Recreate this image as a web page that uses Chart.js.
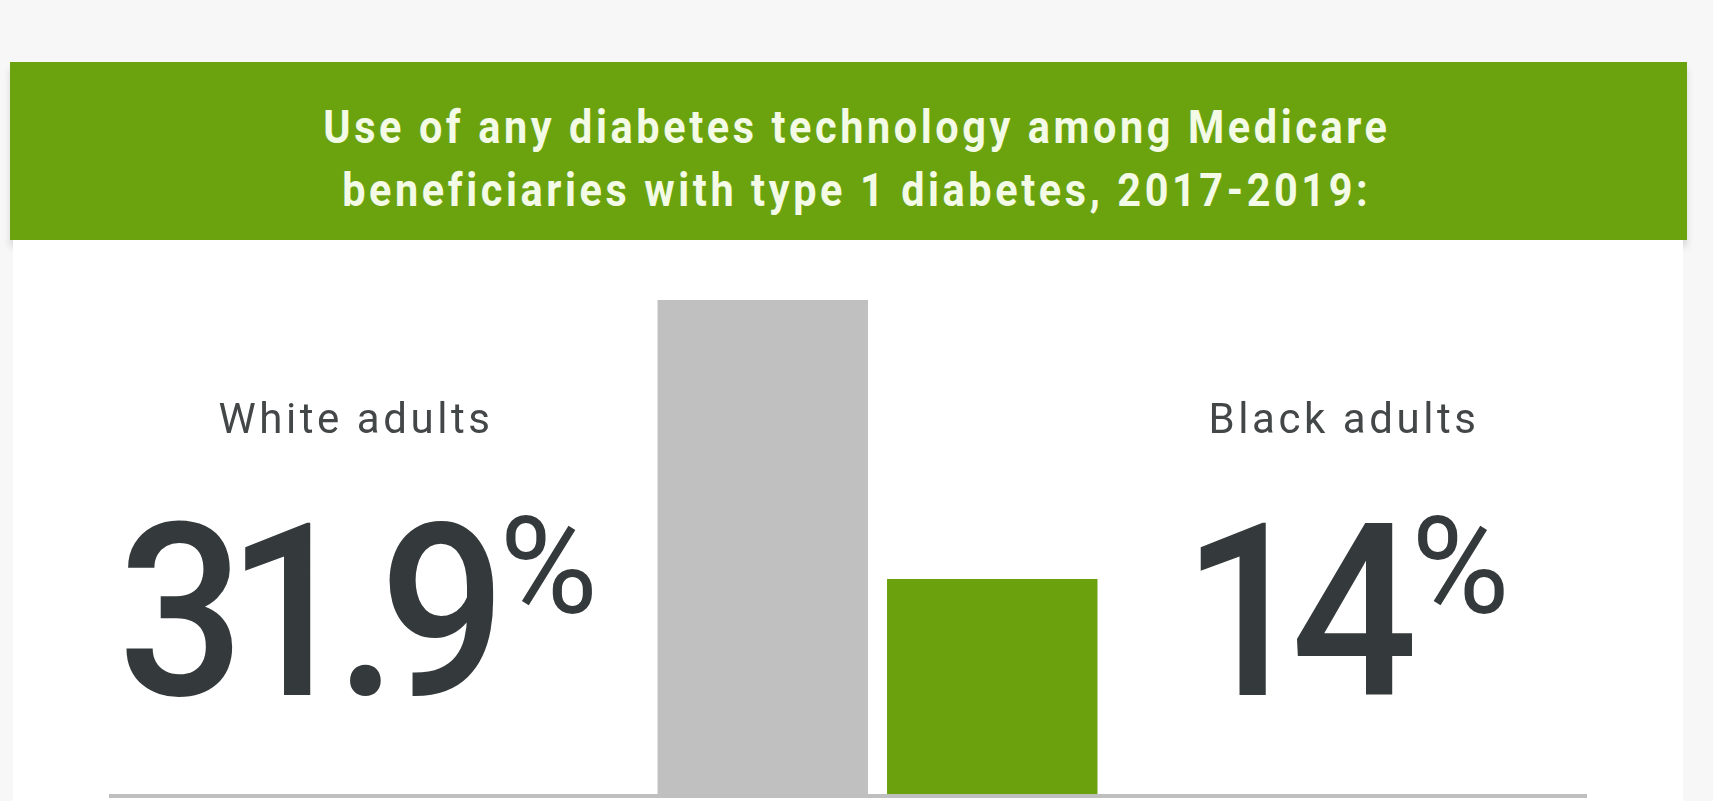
<!DOCTYPE html>
<html>
<head>
<meta charset="utf-8">
<script src="https://cdn.jsdelivr.net/npm/chart.js@4.4.1/dist/chart.umd.min.js"></script>
<style>
  html, body { margin: 0; padding: 0; }
  body {
    width: 1713px; height: 801px; position: relative; overflow: hidden;
    background: #f7f7f7; font-family: Roboto, "Open Sans", sans-serif;
  }
  .card { position: absolute; left: 13px; top: 240px; width: 1670px; height: 561px; background: #fff; }
  .banner {
    position: absolute; left: 10px; top: 62px; width: 1677px; height: 178px;
    background: #6ba30e; box-shadow: 0 7px 7px rgba(0, 0, 0, 0.13);
  }
  .title {
    position: absolute; left: 0; top: 96px; width: 1713px; text-align: center;
    color: #f3fae6; font-weight: 700; font-size: 46px; line-height: 63px;
  }
  .title span { display: inline-block; transform: scaleX(0.9); letter-spacing: 4px; white-space: nowrap; }
  #chart { position: absolute; left: 0; top: 0; }
  .group { position: absolute; width: 640px; text-align: center; color: #343a3b; }
  .group .name { position: absolute; left: 0; width: 100%; font-size: 42px; line-height: 42px; color: #444748; letter-spacing: 0.085em; }
  .group .num {
    position: absolute; left: 0; width: 100%; font-size: 242px; line-height: 242px; font-weight: 500;
    letter-spacing: -0.08em; transform: scaleX(0.92);
  }
  .group .num small {
    font-size: 135px; position: relative; top: -82px; letter-spacing: 0; font-weight: 400;
    margin-left: 0.12em; display: inline-block; transform: scaleX(1.08);
  }
</style>
</head>
<body>
<div class="banner"></div>
<div class="card"></div>
<div class="title">
  <span>Use of any diabetes technology among Medicare</span><br>
  <span>beneficiaries with type 1 diabetes, 2017-2019:</span>
</div>
<canvas id="chart" width="1713" height="801"></canvas>
<div id="labels"></div>
<script>
const groups = ["White adults", "Black adults"];
const shares = [31.9, 14];
const barColors = ["#c0c0c0", "#6ca10e"];
const labelCentres = [356, 1344];

// grey rule under both bars, spanning most of the card
const baseline = {
  id: "baseline",
  afterDatasetsDraw(chart) {
    const ctx = chart.ctx;
    const y = chart.scales.y.getPixelForValue(0);
    ctx.save();
    ctx.fillStyle = "#bfbfbf";
    ctx.fillRect(109, y - 3, 1478, 4);
    ctx.restore();
  }
};

new Chart(document.getElementById("chart"), {
  type: "bar",
  data: {
    labels: groups,
    datasets: [{
      data: shares,
      backgroundColor: barColors,
      borderWidth: 0,
      categoryPercentage: 1,
      barPercentage: 0.917
    }]
  },
  options: {
    responsive: false,
    animation: false,
    layout: { padding: { left: 648, right: 606, top: 300, bottom: 4 } },
    scales: {
      x: { display: false },
      y: { display: false, min: 0, max: 31.9 }
    },
    plugins: { legend: { display: false }, tooltip: { enabled: false } }
  },
  plugins: [baseline]
});

// group names and their shares beside the bars
const holder = document.getElementById("labels");
groups.forEach((g, i) => {
  const div = document.createElement("div");
  div.className = "group";
  div.style.left = (labelCentres[i] - 320) + "px";
  div.style.top = "0px";
  div.innerHTML =
    '<div class="name" style="top:398px">' + g + '</div>' +
    '<div class="num" style="top:491px">' + shares[i] + '<small>%</small></div>';
  holder.appendChild(div);
});
</script>
</body>
</html>
